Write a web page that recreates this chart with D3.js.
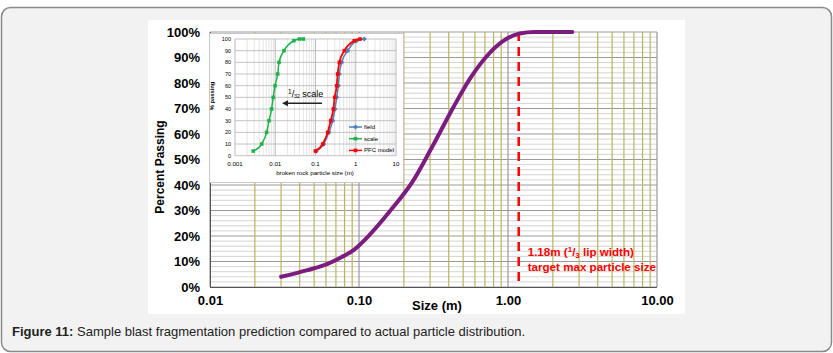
<!DOCTYPE html>
<html>
<head>
<meta charset="utf-8">
<script src="https://cdn.jsdelivr.net/npm/d3@7"></script>
<style>
    body { margin: 0; background: #fff; }
    svg { display: block; font-family: "Liberation Sans", Arial, sans-serif; }
</style>
</head>
<body>
<svg id="chart" width="833" height="353"></svg>
<script>
// curva principal (tamanho em m, % passante)
const mainSizes   = [0.030, 0.045, 0.061, 0.075, 0.092, 0.118, 0.16, 0.23, 0.31, 0.43, 0.56, 0.72, 0.93, 1.2, 1.5, 2.7];
const mainPassing = [4, 6.6, 9, 11.5, 14.5, 20.5, 29.5, 41.5, 55, 70.5, 82, 90.5, 96.5, 99.4, 100, 100];

const yTicks = [0, 10, 20, 30, 40, 50, 60, 70, 80, 90, 100];
const xTicks = [0.01, 0.1, 1, 10];
const xTickLabels = ["0.01", "0.10", "1.00", "10.00"];
const targetSize = 1.18;

// gráfico pequeno
const insetPassing = [4, 10, 20, 30, 40, 50, 60, 70, 80, 90, 98.5, 100, 100];
const fieldSizes = [0.104, 0.160, 0.216, 0.267, 0.305, 0.336, 0.369, 0.391, 0.447, 0.63, 1.05, 1.63];
const scaleSizes = [0.00285, 0.0046, 0.0061, 0.0070, 0.0081, 0.0089, 0.0099, 0.0115, 0.0124, 0.0165, 0.029, 0.040, 0.050];
const pfcSizes   = [0.100, 0.151, 0.201, 0.238, 0.277, 0.300, 0.336, 0.355, 0.391, 0.52, 0.92, 1.28];
const insetXTicks = [0.001, 0.01, 0.1, 1, 10];
const insetXLabels = ["0.001", "0.01", "0.1", "1", "10"];

const svg = d3.select("#chart");

// moldura
svg.append("rect").attr("x", 1.5).attr("y", 7.5).attr("width", 830).attr("height", 344)
    .attr("rx", 9).attr("fill", "#f2f2f2").attr("stroke", "#8a8a8a").attr("stroke-width", 1.5);
svg.append("rect").attr("x", 148).attr("y", 20).attr("width", 537).attr("height", 294).attr("fill", "#fff");

const x = d3.scaleLog().domain([0.01, 10]).range([210, 657]);
const y = d3.scaleLinear().domain([0, 100]).range([287, 32]);

const minorX = [];
[0.01, 0.1, 1].forEach(dec => d3.range(2, 10).forEach(m => minorX.push(dec * m)));
const minorY = d3.range(0, 101, 2).filter(d => d % 10 !== 0);

const grid = svg.append("g");
grid.selectAll(".hmin").data(minorY).enter().append("line")
    .attr("x1", 210).attr("x2", 657).attr("y1", d => y(d)).attr("y2", d => y(d))
    .attr("stroke", "#d4d4d4").attr("stroke-width", 1);
grid.selectAll(".hmaj").data(yTicks).enter().append("line")
    .attr("x1", 210).attr("x2", 657).attr("y1", d => y(d)).attr("y2", d => y(d))
    .attr("stroke", "#9a9a9a").attr("stroke-width", 1);
grid.selectAll(".vmin").data(minorX).enter().append("line")
    .attr("x1", d => x(d)).attr("x2", d => x(d)).attr("y1", 32).attr("y2", 287)
    .attr("stroke", "#bab55a").attr("stroke-width", 1.2);
grid.selectAll(".vmaj").data(xTicks).enter().append("line")
    .attr("x1", d => x(d)).attr("x2", d => x(d)).attr("y1", 32).attr("y2", 287)
    .attr("stroke", "#9a9a9a").attr("stroke-width", 1.2);
// eixos (bordas esquerda e inferior)
svg.append("line").attr("x1", 210.5).attr("x2", 210.5).attr("y1", 32).attr("y2", 287.5).attr("stroke", "#555");
svg.append("line").attr("x1", 210).attr("x2", 657).attr("y1", 287.5).attr("y2", 287.5).attr("stroke", "#555");

// linha alvo
svg.append("line").attr("x1", x(targetSize)).attr("x2", x(targetSize)).attr("y1", y(100)).attr("y2", y(0))
    .attr("stroke", "#ff0000").attr("stroke-width", 2.5).attr("stroke-dasharray", "9,6");

// curva
const mainData = mainSizes.map((s, i) => [s, mainPassing[i]]);
svg.append("path").datum(mainData)
    .attr("fill", "none").attr("stroke", "#7b1c7e").attr("stroke-width", 4).attr("stroke-linecap", "round")
    .attr("d", d3.line().x(d => x(d[0])).y(d => y(d[1])).curve(d3.curveMonotoneX));

// eixos
const yAxis = svg.append("g").attr("transform", "translate(200,0)")
    .call(d3.axisLeft(y).tickValues(yTicks).tickSize(0).tickPadding(0).tickFormat(d => d + "%"));
const xAxis = svg.append("g").attr("transform", "translate(0,296)")
    .call(d3.axisBottom(x).tickValues(xTicks).tickSize(0).tickPadding(0).tickFormat((d, i) => xTickLabels[i]));
[yAxis, xAxis].forEach(a => {
    a.select(".domain").remove();
    a.selectAll("text").attr("font-family", "Liberation Sans, Arial, sans-serif")
        .attr("font-size", 13).attr("font-weight", "bold").attr("fill", "#000");
});

svg.append("text").attr("transform", "translate(164,167) rotate(-90)")
    .attr("text-anchor", "middle").attr("font-size", 12).attr("font-weight", "bold").text("Percent Passing");
svg.append("text").attr("x", 437).attr("y", 310).attr("text-anchor", "middle")
    .attr("font-size", 13).attr("font-weight", "bold").text("Size (m)");

// anotação
const ann = svg.append("text").attr("x", x(targetSize) + 9).attr("y", 256)
    .attr("fill", "#ff0000").attr("font-size", 11.6).attr("font-weight", "bold");
ann.append("tspan").text("1.18m (");
ann.append("tspan").attr("font-size", 8).attr("dy", -4).text("1");
ann.append("tspan").attr("dy", 4).text("/");
ann.append("tspan").attr("font-size", 8).attr("dy", 2).text("3");
ann.append("tspan").attr("dy", -2).text(" lip width)");
svg.append("text").attr("x", x(targetSize) + 9).attr("y", 271)
    .attr("fill", "#ff0000").attr("font-size", 11.6).attr("font-weight", "bold").text("target max particle size");

// ---------- gráfico pequeno ----------
const inset = svg.append("g");
inset.append("rect").attr("x", 209.5).attr("y", 33.5).attr("width", 194).attr("height", 149)
    .attr("fill", "#fff").attr("stroke", "#c8c8c8");

const xi = d3.scaleLog().domain([0.001, 10]).range([235, 396]);
const yi = d3.scaleLinear().domain([0, 100]).range([155.7, 39]);

const insetMinorX = [];
[0.001, 0.01, 0.1, 1].forEach(dec => d3.range(2, 10).forEach(m => insetMinorX.push(dec * m)));

inset.selectAll(".ivmin").data(insetMinorX).enter().append("line")
    .attr("x1", d => xi(d)).attr("x2", d => xi(d)).attr("y1", yi(100)).attr("y2", yi(0))
    .attr("stroke", "#dedede").attr("stroke-width", 0.8);
inset.selectAll(".ivmaj").data(insetXTicks).enter().append("line")
    .attr("x1", d => xi(d)).attr("x2", d => xi(d)).attr("y1", yi(100)).attr("y2", yi(0))
    .attr("stroke", "#a8a8a8").attr("stroke-width", 0.8);
inset.selectAll(".ih").data(yTicks).enter().append("line")
    .attr("x1", xi(0.001)).attr("x2", xi(10)).attr("y1", d => yi(d)).attr("y2", d => yi(d))
    .attr("stroke", "#b4b4b4").attr("stroke-width", 0.8);

inset.selectAll(".iyl").data(yTicks).enter().append("text")
    .attr("x", 231).attr("y", d => yi(d) + 2).attr("text-anchor", "end")
    .attr("font-size", 5.5).text(d => d);
inset.selectAll(".ixl").data(insetXTicks).enter().append("text")
    .attr("x", d => xi(d)).attr("y", 166).attr("text-anchor", "middle")
    .attr("font-size", 6.2).text((d, i) => insetXLabels[i]);
inset.append("text").attr("x", 315).attr("y", 175).attr("text-anchor", "middle")
    .attr("font-size", 6.2).text("broken rock particle size (m)");
inset.append("text").attr("transform", "translate(214,96) rotate(-90)").attr("text-anchor", "middle")
    .attr("font-size", 5.8).attr("font-weight", "bold").text("% passing");

const iline = d3.line().x(d => xi(d[0])).y(d => yi(d[1])).curve(d3.curveMonotoneX);
const series = [
    { name: "field", sizes: fieldSizes, color: "#4f81bd", marker: "diamond" },
    { name: "scale", sizes: scaleSizes, color: "#1fb24a", marker: "square" },
    { name: "PFC model", sizes: pfcSizes, color: "#ff0000", marker: "square" }
];
const markerPath = (m, cx, cy) => m === "diamond"
    ? `M${cx},${cy - 2.6}L${cx + 2.6},${cy}L${cx},${cy + 2.6}L${cx - 2.6},${cy}Z`
    : `M${cx - 1.8},${cy - 1.8}h3.6v3.6h-3.6Z`;

series.forEach(s => {
    const pts = s.sizes.map((v, i) => [v, insetPassing[i]]);
    inset.append("path").datum(pts).attr("fill", "none").attr("stroke", s.color)
        .attr("stroke-width", s.name === "PFC model" ? 1.8 : 1.5).attr("d", iline);
    inset.selectAll(null).data(pts).enter().append("path")
        .attr("d", d => markerPath(s.marker, xi(d[0]), yi(d[1]))).attr("fill", s.color);
});

// legenda
series.forEach((s, i) => {
    const ly = 127 + i * 11.7;
    inset.append("line").attr("x1", 349).attr("x2", 362).attr("y1", ly).attr("y2", ly)
        .attr("stroke", s.color).attr("stroke-width", 1.5);
    inset.append("path").attr("d", markerPath(s.marker, 355.5, ly)).attr("fill", s.color);
    inset.append("text").attr("x", 364).attr("y", ly + 2).attr("font-size", 6).text(s.name);
});

// seta 1/32
const ay = yi(45);
inset.append("line").attr("x1", xi(0.145)).attr("x2", xi(0.0147) + 5).attr("y1", ay).attr("y2", ay)
    .attr("stroke", "#222").attr("stroke-width", 1.6);
inset.append("path")
    .attr("d", `M${xi(0.0147)},${ay}l6,-3v6Z`).attr("fill", "#222");
const lbl = inset.append("text").attr("x", 288).attr("y", 96.5).attr("font-size", 9);
lbl.append("tspan").attr("font-size", 6.5).attr("dy", -3).text("1");
lbl.append("tspan").attr("dy", 3).text("/");
lbl.append("tspan").attr("font-size", 5).attr("dy", 1.5).text("32");
lbl.append("tspan").attr("dy", -1.5).text(" scale");

// legenda da figura
const cap = svg.append("text").attr("x", 12).attr("y", 336).attr("font-size", 13).attr("fill", "#222");
cap.append("tspan").attr("font-weight", "bold").text("Figure 11:");
cap.append("tspan").text(" Sample blast fragmentation prediction compared to actual particle distribution.");
</script>
</body>
</html>
